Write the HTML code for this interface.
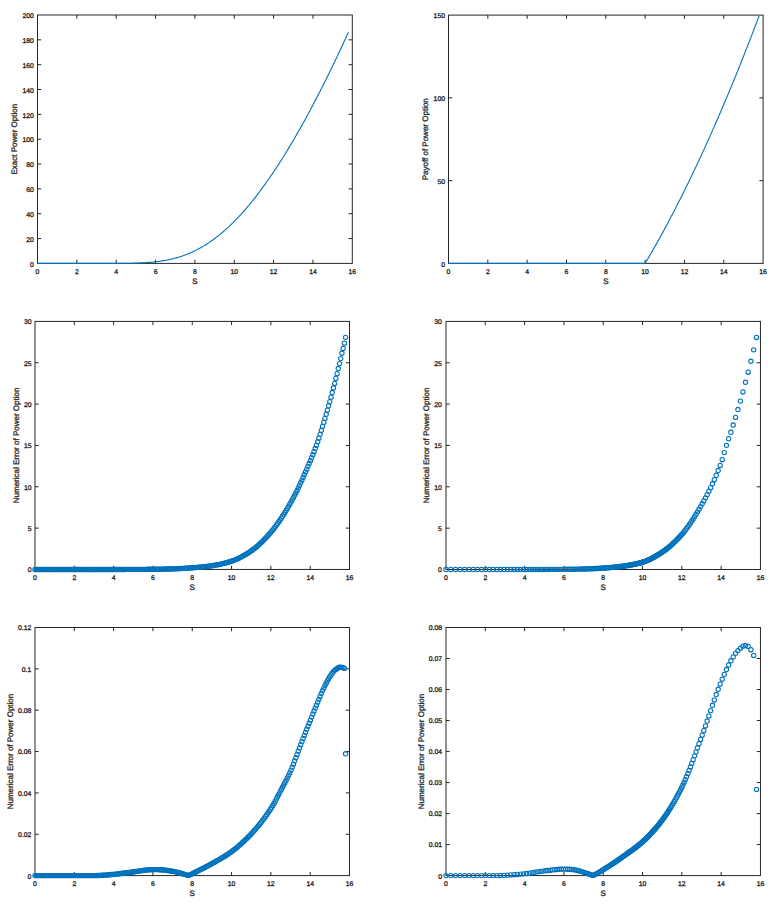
<!DOCTYPE html>
<html><head><meta charset="utf-8"><title>Power Option</title>
<style>
html,body{margin:0;padding:0;background:#fff;overflow:hidden;}
svg{display:block;font-family:"Liberation Sans",sans-serif;fill:#262626;}
text{stroke:#262626;stroke-width:0.3px;text-rendering:geometricPrecision;}
</style></head><body>
<svg width="776" height="907" viewBox="0 0 776 907">
<defs><circle id="c" r="2.15" fill="none" stroke="#0072bd" stroke-width="1.1"/></defs>
<rect width="776" height="907" fill="#fff"/>
<rect x="37.50" y="15.00" width="314.80" height="248.40" fill="none" stroke="#262626" stroke-width="1.0"/>
<text x="37.50" y="274.00" text-anchor="middle" font-size="6.85">0</text>
<text x="76.85" y="274.00" text-anchor="middle" font-size="6.85">2</text>
<text x="116.20" y="274.00" text-anchor="middle" font-size="6.85">4</text>
<text x="155.55" y="274.00" text-anchor="middle" font-size="6.85">6</text>
<text x="194.90" y="274.00" text-anchor="middle" font-size="6.85">8</text>
<text x="234.25" y="274.00" text-anchor="middle" font-size="6.85">10</text>
<text x="273.60" y="274.00" text-anchor="middle" font-size="6.85">12</text>
<text x="312.95" y="274.00" text-anchor="middle" font-size="6.85">14</text>
<text x="352.30" y="274.00" text-anchor="middle" font-size="6.85">16</text>
<text x="33.90" y="266.60" text-anchor="end" font-size="6.85">0</text>
<text x="33.90" y="241.76" text-anchor="end" font-size="6.85">20</text>
<text x="33.90" y="216.92" text-anchor="end" font-size="6.85">40</text>
<text x="33.90" y="192.08" text-anchor="end" font-size="6.85">60</text>
<text x="33.90" y="167.24" text-anchor="end" font-size="6.85">80</text>
<text x="33.90" y="142.40" text-anchor="end" font-size="6.85">100</text>
<text x="33.90" y="117.56" text-anchor="end" font-size="6.85">120</text>
<text x="33.90" y="92.72" text-anchor="end" font-size="6.85">140</text>
<text x="33.90" y="67.88" text-anchor="end" font-size="6.85">160</text>
<text x="33.90" y="43.04" text-anchor="end" font-size="6.85">180</text>
<text x="33.90" y="18.20" text-anchor="end" font-size="6.85">200</text>
<path d="M76.85 263.40v-3.7M76.85 15.00v3.7M116.20 263.40v-3.7M116.20 15.00v3.7M155.55 263.40v-3.7M155.55 15.00v3.7M194.90 263.40v-3.7M194.90 15.00v3.7M234.25 263.40v-3.7M234.25 15.00v3.7M273.60 263.40v-3.7M273.60 15.00v3.7M312.95 263.40v-3.7M312.95 15.00v3.7M37.50 238.56h3.7M352.30 238.56h-3.7M37.50 213.72h3.7M352.30 213.72h-3.7M37.50 188.88h3.7M352.30 188.88h-3.7M37.50 164.04h3.7M352.30 164.04h-3.7M37.50 139.20h3.7M352.30 139.20h-3.7M37.50 114.36h3.7M352.30 114.36h-3.7M37.50 89.52h3.7M352.30 89.52h-3.7M37.50 64.68h3.7M352.30 64.68h-3.7M37.50 39.84h3.7M352.30 39.84h-3.7" stroke="#262626" stroke-width="1.0" fill="none"/>
<text x="194.90" y="284.20" text-anchor="middle" font-size="8.0">S</text>
<text transform="translate(16.70 139.20) rotate(-90)" text-anchor="middle" font-size="8.0">Exact Power Option</text>
<polyline points="37.50,263.40 38.28,263.40 39.06,263.40 39.84,263.40 40.62,263.40 41.40,263.40 42.17,263.40 42.95,263.40 43.73,263.40 44.51,263.40 45.29,263.40 46.07,263.40 46.85,263.40 47.63,263.40 48.41,263.40 49.19,263.40 49.97,263.40 50.74,263.40 51.52,263.40 52.30,263.40 53.08,263.40 53.86,263.40 54.64,263.40 55.42,263.40 56.20,263.40 56.98,263.40 57.76,263.40 58.54,263.40 59.32,263.40 60.09,263.40 60.87,263.40 61.65,263.40 62.43,263.40 63.21,263.40 63.99,263.40 64.77,263.40 65.55,263.40 66.33,263.40 67.11,263.40 67.89,263.40 68.66,263.40 69.44,263.40 70.22,263.40 71.00,263.40 71.78,263.40 72.56,263.40 73.34,263.40 74.12,263.40 74.90,263.40 75.68,263.40 76.46,263.40 77.23,263.40 78.01,263.40 78.79,263.40 79.57,263.40 80.35,263.40 81.13,263.40 81.91,263.40 82.69,263.40 83.47,263.40 84.25,263.40 85.03,263.40 85.80,263.40 86.58,263.40 87.36,263.40 88.14,263.40 88.92,263.40 89.70,263.40 90.48,263.40 91.26,263.40 92.04,263.40 92.82,263.40 93.60,263.40 94.38,263.40 95.15,263.40 95.93,263.40 96.71,263.40 97.49,263.40 98.27,263.40 99.05,263.40 99.83,263.40 100.61,263.40 101.39,263.40 102.17,263.40 102.95,263.40 103.72,263.40 104.50,263.40 105.28,263.40 106.06,263.39 106.84,263.39 107.62,263.39 108.40,263.39 109.18,263.39 109.96,263.39 110.74,263.39 111.52,263.39 112.29,263.38 113.07,263.38 113.85,263.38 114.63,263.38 115.41,263.37 116.19,263.37 116.97,263.37 117.75,263.36 118.53,263.36 119.31,263.36 120.09,263.35 120.86,263.34 121.64,263.34 122.42,263.33 123.20,263.32 123.98,263.32 124.76,263.31 125.54,263.30 126.32,263.29 127.10,263.28 127.88,263.27 128.66,263.25 129.44,263.24 130.21,263.23 130.99,263.21 131.77,263.19 132.55,263.18 133.33,263.16 134.11,263.14 134.89,263.12 135.67,263.09 136.45,263.07 137.23,263.04 138.01,263.01 138.78,262.98 139.56,262.95 140.34,262.92 141.12,262.88 141.90,262.85 142.68,262.81 143.46,262.77 144.24,262.72 145.02,262.68 145.80,262.63 146.58,262.58 147.35,262.52 148.13,262.47 148.91,262.41 149.69,262.34 150.47,262.28 151.25,262.21 152.03,262.14 152.81,262.07 153.59,261.99 154.37,261.91 155.15,261.82 155.92,261.73 156.70,261.64 157.48,261.55 158.26,261.45 159.04,261.34 159.82,261.24 160.60,261.12 161.38,261.01 162.16,260.89 162.94,260.76 163.72,260.63 164.49,260.50 165.27,260.36 166.05,260.22 166.83,260.07 167.61,259.92 168.39,259.76 169.17,259.59 169.95,259.43 170.73,259.25 171.51,259.07 172.29,258.89 173.07,258.70 173.84,258.50 174.62,258.30 175.40,258.09 176.18,257.87 176.96,257.65 177.74,257.43 178.52,257.20 179.30,256.96 180.08,256.71 180.86,256.46 181.64,256.20 182.41,255.94 183.19,255.67 183.97,255.39 184.75,255.11 185.53,254.81 186.31,254.52 187.09,254.21 187.87,253.90 188.65,253.58 189.43,253.25 190.21,252.92 190.98,252.58 191.76,252.23 192.54,251.88 193.32,251.52 194.10,251.15 194.88,250.77 195.66,250.38 196.44,249.99 197.22,249.59 198.00,249.18 198.78,248.77 199.55,248.35 200.33,247.92 201.11,247.48 201.89,247.03 202.67,246.58 203.45,246.12 204.23,245.65 205.01,245.17 205.79,244.68 206.57,244.19 207.35,243.69 208.13,243.18 208.90,242.66 209.68,242.13 210.46,241.60 211.24,241.06 212.02,240.51 212.80,239.95 213.58,239.39 214.36,238.81 215.14,238.23 215.92,237.64 216.70,237.04 217.47,236.43 218.25,235.82 219.03,235.19 219.81,234.56 220.59,233.92 221.37,233.28 222.15,232.62 222.93,231.96 223.71,231.28 224.49,230.60 225.27,229.91 226.04,229.22 226.82,228.51 227.60,227.80 228.38,227.08 229.16,226.35 229.94,225.61 230.72,224.87 231.50,224.11 232.28,223.35 233.06,222.58 233.84,221.80 234.61,221.02 235.39,220.23 236.17,219.42 236.95,218.61 237.73,217.80 238.51,216.97 239.29,216.14 240.07,215.30 240.85,214.45 241.63,213.59 242.41,212.72 243.19,211.85 243.96,210.97 244.74,210.08 245.52,209.18 246.30,208.28 247.08,207.37 247.86,206.45 248.64,205.52 249.42,204.59 250.20,203.64 250.98,202.69 251.76,201.74 252.53,200.77 253.31,199.80 254.09,198.82 254.87,197.83 255.65,196.84 256.43,195.83 257.21,194.82 257.99,193.81 258.77,192.78 259.55,191.75 260.33,190.71 261.10,189.66 261.88,188.61 262.66,187.55 263.44,186.48 264.22,185.40 265.00,184.32 265.78,183.23 266.56,182.14 267.34,181.03 268.12,179.92 268.90,178.80 269.67,177.68 270.45,176.55 271.23,175.41 272.01,174.26 272.79,173.11 273.57,171.95 274.35,170.78 275.13,169.61 275.91,168.43 276.69,167.24 277.47,166.05 278.25,164.85 279.02,163.64 279.80,162.43 280.58,161.21 281.36,159.99 282.14,158.75 282.92,157.51 283.70,156.27 284.48,155.01 285.26,153.76 286.04,152.49 286.82,151.22 287.59,149.94 288.37,148.66 289.15,147.37 289.93,146.07 290.71,144.77 291.49,143.46 292.27,142.14 293.05,140.82 293.83,139.49 294.61,138.16 295.39,136.81 296.16,135.47 296.94,134.12 297.72,132.76 298.50,131.39 299.28,130.02 300.06,128.64 300.84,127.26 301.62,125.87 302.40,124.48 303.18,123.08 303.96,121.67 304.73,120.26 305.51,118.84 306.29,117.41 307.07,115.98 307.85,114.55 308.63,113.11 309.41,111.66 310.19,110.21 310.97,108.75 311.75,107.28 312.53,105.81 313.31,104.34 314.08,102.86 314.86,101.37 315.64,99.88 316.42,98.38 317.20,96.87 317.98,95.36 318.76,93.85 319.54,92.33 320.32,90.80 321.10,89.27 321.88,87.73 322.65,86.19 323.43,84.64 324.21,83.09 324.99,81.53 325.77,79.97 326.55,78.40 327.33,76.82 328.11,75.24 328.89,73.66 329.67,72.07 330.45,70.47 331.22,68.87 332.00,67.26 332.78,65.65 333.56,64.03 334.34,62.41 335.12,60.78 335.90,59.15 336.68,57.51 337.46,55.87 338.24,54.22 339.02,52.56 339.79,50.90 340.57,49.24 341.35,47.57 342.13,45.90 342.91,44.22 343.69,42.53 344.47,40.84 345.25,39.15 346.03,37.45 346.81,35.74 347.59,34.03 348.37,32.32" fill="none" stroke="#0072bd" stroke-width="1.1" stroke-linejoin="round"/>
<rect x="448.50" y="15.10" width="314.60" height="248.30" fill="none" stroke="#262626" stroke-width="1.0"/>
<text x="448.50" y="274.00" text-anchor="middle" font-size="6.85">0</text>
<text x="487.82" y="274.00" text-anchor="middle" font-size="6.85">2</text>
<text x="527.15" y="274.00" text-anchor="middle" font-size="6.85">4</text>
<text x="566.48" y="274.00" text-anchor="middle" font-size="6.85">6</text>
<text x="605.80" y="274.00" text-anchor="middle" font-size="6.85">8</text>
<text x="645.12" y="274.00" text-anchor="middle" font-size="6.85">10</text>
<text x="684.45" y="274.00" text-anchor="middle" font-size="6.85">12</text>
<text x="723.78" y="274.00" text-anchor="middle" font-size="6.85">14</text>
<text x="763.10" y="274.00" text-anchor="middle" font-size="6.85">16</text>
<text x="445.00" y="266.60" text-anchor="end" font-size="6.85">0</text>
<text x="445.00" y="183.83" text-anchor="end" font-size="6.85">50</text>
<text x="445.00" y="101.07" text-anchor="end" font-size="6.85">100</text>
<text x="445.00" y="18.30" text-anchor="end" font-size="6.85">150</text>
<path d="M487.82 263.40v-3.7M487.82 15.10v3.7M527.15 263.40v-3.7M527.15 15.10v3.7M566.48 263.40v-3.7M566.48 15.10v3.7M605.80 263.40v-3.7M605.80 15.10v3.7M645.12 263.40v-3.7M645.12 15.10v3.7M684.45 263.40v-3.7M684.45 15.10v3.7M723.78 263.40v-3.7M723.78 15.10v3.7M448.50 180.63h3.7M763.10 180.63h-3.7M448.50 97.87h3.7M763.10 97.87h-3.7" stroke="#262626" stroke-width="1.0" fill="none"/>
<text x="605.80" y="284.20" text-anchor="middle" font-size="8.0">S</text>
<text transform="translate(427.90 139.25) rotate(-90)" text-anchor="middle" font-size="8.0">Payoff of Power Option</text>
<polyline points="448.50,263.40 449.28,263.40 450.06,263.40 450.84,263.40 451.61,263.40 452.39,263.40 453.17,263.40 453.95,263.40 454.73,263.40 455.51,263.40 456.29,263.40 457.06,263.40 457.84,263.40 458.62,263.40 459.40,263.40 460.18,263.40 460.96,263.40 461.74,263.40 462.52,263.40 463.29,263.40 464.07,263.40 464.85,263.40 465.63,263.40 466.41,263.40 467.19,263.40 467.97,263.40 468.74,263.40 469.52,263.40 470.30,263.40 471.08,263.40 471.86,263.40 472.64,263.40 473.42,263.40 474.19,263.40 474.97,263.40 475.75,263.40 476.53,263.40 477.31,263.40 478.09,263.40 478.87,263.40 479.64,263.40 480.42,263.40 481.20,263.40 481.98,263.40 482.76,263.40 483.54,263.40 484.32,263.40 485.09,263.40 485.87,263.40 486.65,263.40 487.43,263.40 488.21,263.40 488.99,263.40 489.77,263.40 490.55,263.40 491.32,263.40 492.10,263.40 492.88,263.40 493.66,263.40 494.44,263.40 495.22,263.40 496.00,263.40 496.77,263.40 497.55,263.40 498.33,263.40 499.11,263.40 499.89,263.40 500.67,263.40 501.45,263.40 502.22,263.40 503.00,263.40 503.78,263.40 504.56,263.40 505.34,263.40 506.12,263.40 506.90,263.40 507.67,263.40 508.45,263.40 509.23,263.40 510.01,263.40 510.79,263.40 511.57,263.40 512.35,263.40 513.13,263.40 513.90,263.40 514.68,263.40 515.46,263.40 516.24,263.40 517.02,263.40 517.80,263.40 518.58,263.40 519.35,263.40 520.13,263.40 520.91,263.40 521.69,263.40 522.47,263.40 523.25,263.40 524.03,263.40 524.80,263.40 525.58,263.40 526.36,263.40 527.14,263.40 527.92,263.40 528.70,263.40 529.48,263.40 530.25,263.40 531.03,263.40 531.81,263.40 532.59,263.40 533.37,263.40 534.15,263.40 534.93,263.40 535.70,263.40 536.48,263.40 537.26,263.40 538.04,263.40 538.82,263.40 539.60,263.40 540.38,263.40 541.16,263.40 541.93,263.40 542.71,263.40 543.49,263.40 544.27,263.40 545.05,263.40 545.83,263.40 546.61,263.40 547.38,263.40 548.16,263.40 548.94,263.40 549.72,263.40 550.50,263.40 551.28,263.40 552.06,263.40 552.83,263.40 553.61,263.40 554.39,263.40 555.17,263.40 555.95,263.40 556.73,263.40 557.51,263.40 558.28,263.40 559.06,263.40 559.84,263.40 560.62,263.40 561.40,263.40 562.18,263.40 562.96,263.40 563.74,263.40 564.51,263.40 565.29,263.40 566.07,263.40 566.85,263.40 567.63,263.40 568.41,263.40 569.19,263.40 569.96,263.40 570.74,263.40 571.52,263.40 572.30,263.40 573.08,263.40 573.86,263.40 574.64,263.40 575.41,263.40 576.19,263.40 576.97,263.40 577.75,263.40 578.53,263.40 579.31,263.40 580.09,263.40 580.86,263.40 581.64,263.40 582.42,263.40 583.20,263.40 583.98,263.40 584.76,263.40 585.54,263.40 586.31,263.40 587.09,263.40 587.87,263.40 588.65,263.40 589.43,263.40 590.21,263.40 590.99,263.40 591.77,263.40 592.54,263.40 593.32,263.40 594.10,263.40 594.88,263.40 595.66,263.40 596.44,263.40 597.22,263.40 597.99,263.40 598.77,263.40 599.55,263.40 600.33,263.40 601.11,263.40 601.89,263.40 602.67,263.40 603.44,263.40 604.22,263.40 605.00,263.40 605.78,263.40 606.56,263.40 607.34,263.40 608.12,263.40 608.89,263.40 609.67,263.40 610.45,263.40 611.23,263.40 612.01,263.40 612.79,263.40 613.57,263.40 614.35,263.40 615.12,263.40 615.90,263.40 616.68,263.40 617.46,263.40 618.24,263.40 619.02,263.40 619.80,263.40 620.57,263.40 621.35,263.40 622.13,263.40 622.91,263.40 623.69,263.40 624.47,263.40 625.25,263.40 626.02,263.40 626.80,263.40 627.58,263.40 628.36,263.40 629.14,263.40 629.92,263.40 630.70,263.40 631.47,263.40 632.25,263.40 633.03,263.40 633.81,263.40 634.59,263.40 635.37,263.40 636.15,263.40 636.92,263.40 637.70,263.40 638.48,263.40 639.26,263.40 640.04,263.40 640.82,263.40 641.60,263.40 642.38,263.40 643.15,263.40 643.93,263.40 644.71,263.40 645.49,262.79 646.27,261.47 647.05,260.15 647.83,258.82 648.60,257.49 649.38,256.15 650.16,254.81 650.94,253.46 651.72,252.11 652.50,250.75 653.28,249.39 654.05,248.02 654.83,246.65 655.61,245.27 656.39,243.89 657.17,242.50 657.95,241.11 658.73,239.71 659.50,238.30 660.28,236.89 661.06,235.48 661.84,234.06 662.62,232.63 663.40,231.20 664.18,229.77 664.96,228.33 665.73,226.88 666.51,225.43 667.29,223.97 668.07,222.51 668.85,221.05 669.63,219.57 670.41,218.10 671.18,216.62 671.96,215.13 672.74,213.64 673.52,212.14 674.30,210.64 675.08,209.13 675.86,207.61 676.63,206.10 677.41,204.57 678.19,203.04 678.97,201.51 679.75,199.97 680.53,198.43 681.31,196.88 682.08,195.32 682.86,193.76 683.64,192.20 684.42,190.63 685.20,189.05 685.98,187.47 686.76,185.88 687.53,184.29 688.31,182.70 689.09,181.09 689.87,179.49 690.65,177.88 691.43,176.26 692.21,174.64 692.99,173.01 693.76,171.38 694.54,169.74 695.32,168.09 696.10,166.45 696.88,164.79 697.66,163.13 698.44,161.47 699.21,159.80 699.99,158.13 700.77,156.45 701.55,154.76 702.33,153.07 703.11,151.38 703.89,149.68 704.66,147.97 705.44,146.26 706.22,144.55 707.00,142.83 707.78,141.10 708.56,139.37 709.34,137.63 710.11,135.89 710.89,134.14 711.67,132.39 712.45,130.63 713.23,128.87 714.01,127.10 714.79,125.33 715.57,123.55 716.34,121.77 717.12,119.98 717.90,118.19 718.68,116.39 719.46,114.58 720.24,112.77 721.02,110.96 721.79,109.14 722.57,107.32 723.35,105.49 724.13,103.65 724.91,101.81 725.69,99.97 726.47,98.11 727.24,96.26 728.02,94.40 728.80,92.53 729.58,90.66 730.36,88.78 731.14,86.90 731.92,85.01 732.69,83.12 733.47,81.22 734.25,79.32 735.03,77.41 735.81,75.50 736.59,73.58 737.37,71.66 738.14,69.73 738.92,67.80 739.70,65.86 740.48,63.91 741.26,61.96 742.04,60.01 742.82,58.05 743.60,56.08 744.37,54.11 745.15,52.14 745.93,50.16 746.71,48.17 747.49,46.18 748.27,44.19 749.05,42.18 749.82,40.18 750.60,38.17 751.38,36.15 752.16,34.13 752.94,32.10 753.72,30.07 754.50,28.03 755.27,25.99 756.05,23.94 756.83,21.89 757.61,19.83 758.39,17.76 759.17,15.70" fill="none" stroke="#0072bd" stroke-width="1.1" stroke-linejoin="round"/>
<rect x="35.00" y="321.40" width="314.50" height="248.05" fill="none" stroke="#262626" stroke-width="1.0"/>
<text x="35.00" y="580.05" text-anchor="middle" font-size="6.85">0</text>
<text x="74.31" y="580.05" text-anchor="middle" font-size="6.85">2</text>
<text x="113.62" y="580.05" text-anchor="middle" font-size="6.85">4</text>
<text x="152.94" y="580.05" text-anchor="middle" font-size="6.85">6</text>
<text x="192.25" y="580.05" text-anchor="middle" font-size="6.85">8</text>
<text x="231.56" y="580.05" text-anchor="middle" font-size="6.85">10</text>
<text x="270.88" y="580.05" text-anchor="middle" font-size="6.85">12</text>
<text x="310.19" y="580.05" text-anchor="middle" font-size="6.85">14</text>
<text x="349.50" y="580.05" text-anchor="middle" font-size="6.85">16</text>
<text x="31.60" y="572.35" text-anchor="end" font-size="6.85">0</text>
<text x="31.60" y="531.01" text-anchor="end" font-size="6.85">5</text>
<text x="31.60" y="489.67" text-anchor="end" font-size="6.85">10</text>
<text x="31.60" y="448.32" text-anchor="end" font-size="6.85">15</text>
<text x="31.60" y="406.98" text-anchor="end" font-size="6.85">20</text>
<text x="31.60" y="365.64" text-anchor="end" font-size="6.85">25</text>
<text x="31.60" y="324.30" text-anchor="end" font-size="6.85">30</text>
<path d="M74.31 569.45v-3.7M74.31 321.40v3.7M113.62 569.45v-3.7M113.62 321.40v3.7M152.94 569.45v-3.7M152.94 321.40v3.7M192.25 569.45v-3.7M192.25 321.40v3.7M231.56 569.45v-3.7M231.56 321.40v3.7M270.88 569.45v-3.7M270.88 321.40v3.7M310.19 569.45v-3.7M310.19 321.40v3.7M35.00 528.11h3.7M349.50 528.11h-3.7M35.00 486.77h3.7M349.50 486.77h-3.7M35.00 445.43h3.7M349.50 445.43h-3.7M35.00 404.08h3.7M349.50 404.08h-3.7M35.00 362.74h3.7M349.50 362.74h-3.7" stroke="#262626" stroke-width="1.0" fill="none"/>
<text x="192.25" y="590.25" text-anchor="middle" font-size="8.0">S</text>
<text transform="translate(19.00 445.43) rotate(-90)" text-anchor="middle" font-size="8.0">Numerical Error of Power Option</text>
<g><use href="#c" x="35.00" y="569.45"/><use href="#c" x="36.21" y="569.45"/><use href="#c" x="37.43" y="569.45"/><use href="#c" x="38.64" y="569.45"/><use href="#c" x="39.85" y="569.45"/><use href="#c" x="41.07" y="569.45"/><use href="#c" x="42.28" y="569.45"/><use href="#c" x="43.49" y="569.45"/><use href="#c" x="44.71" y="569.45"/><use href="#c" x="45.92" y="569.45"/><use href="#c" x="47.13" y="569.45"/><use href="#c" x="48.34" y="569.45"/><use href="#c" x="49.56" y="569.45"/><use href="#c" x="50.77" y="569.45"/><use href="#c" x="51.98" y="569.45"/><use href="#c" x="53.20" y="569.45"/><use href="#c" x="54.41" y="569.45"/><use href="#c" x="55.62" y="569.45"/><use href="#c" x="56.84" y="569.45"/><use href="#c" x="58.05" y="569.45"/><use href="#c" x="59.26" y="569.45"/><use href="#c" x="60.48" y="569.45"/><use href="#c" x="61.69" y="569.45"/><use href="#c" x="62.90" y="569.45"/><use href="#c" x="64.12" y="569.45"/><use href="#c" x="65.33" y="569.45"/><use href="#c" x="66.54" y="569.45"/><use href="#c" x="67.76" y="569.45"/><use href="#c" x="68.97" y="569.45"/><use href="#c" x="70.18" y="569.45"/><use href="#c" x="71.39" y="569.45"/><use href="#c" x="72.61" y="569.45"/><use href="#c" x="73.82" y="569.45"/><use href="#c" x="75.03" y="569.45"/><use href="#c" x="76.25" y="569.45"/><use href="#c" x="77.46" y="569.45"/><use href="#c" x="78.67" y="569.45"/><use href="#c" x="79.89" y="569.45"/><use href="#c" x="81.10" y="569.45"/><use href="#c" x="82.31" y="569.45"/><use href="#c" x="83.53" y="569.45"/><use href="#c" x="84.74" y="569.45"/><use href="#c" x="85.95" y="569.45"/><use href="#c" x="87.17" y="569.45"/><use href="#c" x="88.38" y="569.45"/><use href="#c" x="89.59" y="569.45"/><use href="#c" x="90.81" y="569.45"/><use href="#c" x="92.02" y="569.45"/><use href="#c" x="93.23" y="569.45"/><use href="#c" x="94.44" y="569.45"/><use href="#c" x="95.66" y="569.45"/><use href="#c" x="96.87" y="569.45"/><use href="#c" x="98.08" y="569.44"/><use href="#c" x="99.30" y="569.44"/><use href="#c" x="100.51" y="569.44"/><use href="#c" x="101.72" y="569.44"/><use href="#c" x="102.94" y="569.44"/><use href="#c" x="104.15" y="569.44"/><use href="#c" x="105.36" y="569.44"/><use href="#c" x="106.58" y="569.44"/><use href="#c" x="107.79" y="569.44"/><use href="#c" x="109.00" y="569.44"/><use href="#c" x="110.22" y="569.44"/><use href="#c" x="111.43" y="569.44"/><use href="#c" x="112.64" y="569.44"/><use href="#c" x="113.86" y="569.44"/><use href="#c" x="115.07" y="569.44"/><use href="#c" x="116.28" y="569.44"/><use href="#c" x="117.49" y="569.44"/><use href="#c" x="118.71" y="569.44"/><use href="#c" x="119.92" y="569.44"/><use href="#c" x="121.13" y="569.43"/><use href="#c" x="122.35" y="569.43"/><use href="#c" x="123.56" y="569.43"/><use href="#c" x="124.77" y="569.43"/><use href="#c" x="125.99" y="569.42"/><use href="#c" x="127.20" y="569.42"/><use href="#c" x="128.41" y="569.42"/><use href="#c" x="129.63" y="569.41"/><use href="#c" x="130.84" y="569.41"/><use href="#c" x="132.05" y="569.40"/><use href="#c" x="133.27" y="569.40"/><use href="#c" x="134.48" y="569.39"/><use href="#c" x="135.69" y="569.39"/><use href="#c" x="136.91" y="569.38"/><use href="#c" x="138.12" y="569.38"/><use href="#c" x="139.33" y="569.37"/><use href="#c" x="140.54" y="569.36"/><use href="#c" x="141.76" y="569.36"/><use href="#c" x="142.97" y="569.35"/><use href="#c" x="144.18" y="569.34"/><use href="#c" x="145.40" y="569.34"/><use href="#c" x="146.61" y="569.33"/><use href="#c" x="147.82" y="569.32"/><use href="#c" x="149.04" y="569.31"/><use href="#c" x="150.25" y="569.30"/><use href="#c" x="151.46" y="569.30"/><use href="#c" x="152.68" y="569.29"/><use href="#c" x="153.89" y="569.28"/><use href="#c" x="155.10" y="569.26"/><use href="#c" x="156.32" y="569.25"/><use href="#c" x="157.53" y="569.23"/><use href="#c" x="158.74" y="569.21"/><use href="#c" x="159.96" y="569.19"/><use href="#c" x="161.17" y="569.17"/><use href="#c" x="162.38" y="569.14"/><use href="#c" x="163.59" y="569.12"/><use href="#c" x="164.81" y="569.09"/><use href="#c" x="166.02" y="569.06"/><use href="#c" x="167.23" y="569.03"/><use href="#c" x="168.45" y="568.99"/><use href="#c" x="169.66" y="568.96"/><use href="#c" x="170.87" y="568.92"/><use href="#c" x="172.09" y="568.89"/><use href="#c" x="173.30" y="568.85"/><use href="#c" x="174.51" y="568.81"/><use href="#c" x="175.73" y="568.76"/><use href="#c" x="176.94" y="568.71"/><use href="#c" x="178.15" y="568.66"/><use href="#c" x="179.37" y="568.60"/><use href="#c" x="180.58" y="568.54"/><use href="#c" x="181.79" y="568.47"/><use href="#c" x="183.01" y="568.40"/><use href="#c" x="184.22" y="568.33"/><use href="#c" x="185.43" y="568.26"/><use href="#c" x="186.64" y="568.18"/><use href="#c" x="187.86" y="568.10"/><use href="#c" x="189.07" y="568.02"/><use href="#c" x="190.28" y="567.94"/><use href="#c" x="191.50" y="567.85"/><use href="#c" x="192.71" y="567.76"/><use href="#c" x="193.92" y="567.67"/><use href="#c" x="195.14" y="567.58"/><use href="#c" x="196.35" y="567.48"/><use href="#c" x="197.56" y="567.37"/><use href="#c" x="198.78" y="567.26"/><use href="#c" x="199.99" y="567.15"/><use href="#c" x="201.20" y="567.03"/><use href="#c" x="202.42" y="566.91"/><use href="#c" x="203.63" y="566.78"/><use href="#c" x="204.84" y="566.64"/><use href="#c" x="206.06" y="566.50"/><use href="#c" x="207.27" y="566.35"/><use href="#c" x="208.48" y="566.20"/><use href="#c" x="209.69" y="566.04"/><use href="#c" x="210.91" y="565.87"/><use href="#c" x="212.12" y="565.70"/><use href="#c" x="213.33" y="565.51"/><use href="#c" x="214.55" y="565.32"/><use href="#c" x="215.76" y="565.11"/><use href="#c" x="216.97" y="564.89"/><use href="#c" x="218.19" y="564.65"/><use href="#c" x="219.40" y="564.40"/><use href="#c" x="220.61" y="564.14"/><use href="#c" x="221.83" y="563.87"/><use href="#c" x="223.04" y="563.58"/><use href="#c" x="224.25" y="563.28"/><use href="#c" x="225.47" y="562.97"/><use href="#c" x="226.68" y="562.64"/><use href="#c" x="227.89" y="562.30"/><use href="#c" x="229.11" y="561.94"/><use href="#c" x="230.32" y="561.57"/><use href="#c" x="231.53" y="561.19"/><use href="#c" x="232.74" y="560.78"/><use href="#c" x="233.96" y="560.34"/><use href="#c" x="235.17" y="559.86"/><use href="#c" x="236.38" y="559.34"/><use href="#c" x="237.60" y="558.79"/><use href="#c" x="238.81" y="558.21"/><use href="#c" x="240.02" y="557.61"/><use href="#c" x="241.24" y="556.97"/><use href="#c" x="242.45" y="556.30"/><use href="#c" x="243.66" y="555.61"/><use href="#c" x="244.88" y="554.90"/><use href="#c" x="246.09" y="554.17"/><use href="#c" x="247.30" y="553.41"/><use href="#c" x="248.52" y="552.63"/><use href="#c" x="249.73" y="551.84"/><use href="#c" x="250.94" y="551.03"/><use href="#c" x="252.16" y="550.20"/><use href="#c" x="253.37" y="549.32"/><use href="#c" x="254.58" y="548.39"/><use href="#c" x="255.79" y="547.42"/><use href="#c" x="257.01" y="546.40"/><use href="#c" x="258.22" y="545.34"/><use href="#c" x="259.43" y="544.25"/><use href="#c" x="260.65" y="543.11"/><use href="#c" x="261.86" y="541.94"/><use href="#c" x="263.07" y="540.73"/><use href="#c" x="264.29" y="539.49"/><use href="#c" x="265.50" y="538.22"/><use href="#c" x="266.71" y="536.92"/><use href="#c" x="267.93" y="535.59"/><use href="#c" x="269.14" y="534.23"/><use href="#c" x="270.35" y="532.85"/><use href="#c" x="271.57" y="531.43"/><use href="#c" x="272.78" y="529.96"/><use href="#c" x="273.99" y="528.43"/><use href="#c" x="275.21" y="526.85"/><use href="#c" x="276.42" y="525.21"/><use href="#c" x="277.63" y="523.52"/><use href="#c" x="278.84" y="521.78"/><use href="#c" x="280.06" y="520.00"/><use href="#c" x="281.27" y="518.16"/><use href="#c" x="282.48" y="516.29"/><use href="#c" x="283.70" y="514.37"/><use href="#c" x="284.91" y="512.41"/><use href="#c" x="286.12" y="510.42"/><use href="#c" x="287.34" y="508.39"/><use href="#c" x="288.55" y="506.33"/><use href="#c" x="289.76" y="504.23"/><use href="#c" x="290.98" y="502.10"/><use href="#c" x="292.19" y="499.91"/><use href="#c" x="293.40" y="497.65"/><use href="#c" x="294.62" y="495.32"/><use href="#c" x="295.83" y="492.93"/><use href="#c" x="297.04" y="490.48"/><use href="#c" x="298.26" y="487.97"/><use href="#c" x="299.47" y="485.41"/><use href="#c" x="300.68" y="482.81"/><use href="#c" x="301.90" y="480.16"/><use href="#c" x="303.11" y="477.47"/><use href="#c" x="304.32" y="474.74"/><use href="#c" x="305.53" y="471.97"/><use href="#c" x="306.75" y="469.18"/><use href="#c" x="307.96" y="466.36"/><use href="#c" x="309.17" y="463.52"/><use href="#c" x="310.39" y="460.66"/><use href="#c" x="311.60" y="457.75"/><use href="#c" x="312.81" y="454.77"/><use href="#c" x="314.03" y="451.69"/><use href="#c" x="315.24" y="448.52"/><use href="#c" x="316.45" y="445.22"/><use href="#c" x="317.67" y="441.79"/><use href="#c" x="318.88" y="438.16"/><use href="#c" x="320.09" y="434.36"/><use href="#c" x="321.31" y="430.44"/><use href="#c" x="322.52" y="426.44"/><use href="#c" x="323.73" y="422.42"/><use href="#c" x="324.95" y="418.41"/><use href="#c" x="326.16" y="414.36"/><use href="#c" x="327.37" y="410.14"/><use href="#c" x="328.58" y="405.76"/><use href="#c" x="329.80" y="401.62"/><use href="#c" x="331.01" y="397.15"/><use href="#c" x="332.22" y="392.52"/><use href="#c" x="333.44" y="387.89"/><use href="#c" x="334.65" y="383.43"/><use href="#c" x="335.86" y="378.46"/><use href="#c" x="337.08" y="373.67"/><use href="#c" x="338.29" y="368.54"/><use href="#c" x="339.50" y="363.58"/><use href="#c" x="340.72" y="358.61"/><use href="#c" x="341.93" y="353.24"/><use href="#c" x="343.14" y="348.44"/><use href="#c" x="344.36" y="343.15"/><use href="#c" x="345.57" y="337.36"/></g>
<rect x="446.00" y="321.40" width="314.45" height="248.10" fill="none" stroke="#262626" stroke-width="1.0"/>
<text x="446.00" y="580.10" text-anchor="middle" font-size="6.85">0</text>
<text x="485.31" y="580.10" text-anchor="middle" font-size="6.85">2</text>
<text x="524.61" y="580.10" text-anchor="middle" font-size="6.85">4</text>
<text x="563.92" y="580.10" text-anchor="middle" font-size="6.85">6</text>
<text x="603.23" y="580.10" text-anchor="middle" font-size="6.85">8</text>
<text x="642.53" y="580.10" text-anchor="middle" font-size="6.85">10</text>
<text x="681.84" y="580.10" text-anchor="middle" font-size="6.85">12</text>
<text x="721.14" y="580.10" text-anchor="middle" font-size="6.85">14</text>
<text x="760.45" y="580.10" text-anchor="middle" font-size="6.85">16</text>
<text x="441.90" y="572.40" text-anchor="end" font-size="6.85">0</text>
<text x="441.90" y="531.05" text-anchor="end" font-size="6.85">5</text>
<text x="441.90" y="489.70" text-anchor="end" font-size="6.85">10</text>
<text x="441.90" y="448.35" text-anchor="end" font-size="6.85">15</text>
<text x="441.90" y="407.00" text-anchor="end" font-size="6.85">20</text>
<text x="441.90" y="365.65" text-anchor="end" font-size="6.85">25</text>
<text x="441.90" y="324.30" text-anchor="end" font-size="6.85">30</text>
<path d="M485.31 569.50v-3.7M485.31 321.40v3.7M524.61 569.50v-3.7M524.61 321.40v3.7M563.92 569.50v-3.7M563.92 321.40v3.7M603.23 569.50v-3.7M603.23 321.40v3.7M642.53 569.50v-3.7M642.53 321.40v3.7M681.84 569.50v-3.7M681.84 321.40v3.7M721.14 569.50v-3.7M721.14 321.40v3.7M446.00 528.15h3.7M760.45 528.15h-3.7M446.00 486.80h3.7M760.45 486.80h-3.7M446.00 445.45h3.7M760.45 445.45h-3.7M446.00 404.10h3.7M760.45 404.10h-3.7M446.00 362.75h3.7M760.45 362.75h-3.7" stroke="#262626" stroke-width="1.0" fill="none"/>
<text x="603.23" y="590.30" text-anchor="middle" font-size="8.0">S</text>
<text transform="translate(428.75 445.45) rotate(-90)" text-anchor="middle" font-size="8.0">Numerical Error of Power Option</text>
<g><use href="#c" x="446.00" y="569.50"/><use href="#c" x="450.83" y="569.50"/><use href="#c" x="455.55" y="569.50"/><use href="#c" x="460.16" y="569.50"/><use href="#c" x="464.65" y="569.50"/><use href="#c" x="469.03" y="569.50"/><use href="#c" x="473.31" y="569.50"/><use href="#c" x="477.48" y="569.50"/><use href="#c" x="481.56" y="569.50"/><use href="#c" x="485.53" y="569.50"/><use href="#c" x="489.41" y="569.50"/><use href="#c" x="493.20" y="569.50"/><use href="#c" x="496.90" y="569.50"/><use href="#c" x="500.50" y="569.50"/><use href="#c" x="504.02" y="569.50"/><use href="#c" x="507.46" y="569.50"/><use href="#c" x="510.81" y="569.49"/><use href="#c" x="514.09" y="569.49"/><use href="#c" x="517.28" y="569.49"/><use href="#c" x="520.40" y="569.49"/><use href="#c" x="523.44" y="569.49"/><use href="#c" x="526.42" y="569.49"/><use href="#c" x="529.32" y="569.49"/><use href="#c" x="532.15" y="569.48"/><use href="#c" x="534.91" y="569.48"/><use href="#c" x="537.61" y="569.47"/><use href="#c" x="540.25" y="569.46"/><use href="#c" x="542.82" y="569.45"/><use href="#c" x="545.33" y="569.44"/><use href="#c" x="547.78" y="569.43"/><use href="#c" x="550.18" y="569.42"/><use href="#c" x="552.52" y="569.41"/><use href="#c" x="554.80" y="569.39"/><use href="#c" x="557.03" y="569.38"/><use href="#c" x="559.21" y="569.37"/><use href="#c" x="561.33" y="569.35"/><use href="#c" x="563.41" y="569.34"/><use href="#c" x="565.44" y="569.32"/><use href="#c" x="567.42" y="569.30"/><use href="#c" x="569.36" y="569.28"/><use href="#c" x="571.25" y="569.25"/><use href="#c" x="573.10" y="569.22"/><use href="#c" x="574.90" y="569.19"/><use href="#c" x="576.67" y="569.16"/><use href="#c" x="578.39" y="569.12"/><use href="#c" x="580.08" y="569.09"/><use href="#c" x="581.73" y="569.05"/><use href="#c" x="583.34" y="569.01"/><use href="#c" x="584.91" y="568.97"/><use href="#c" x="586.45" y="568.92"/><use href="#c" x="587.95" y="568.87"/><use href="#c" x="589.43" y="568.82"/><use href="#c" x="590.86" y="568.76"/><use href="#c" x="592.27" y="568.69"/><use href="#c" x="593.65" y="568.63"/><use href="#c" x="595.00" y="568.56"/><use href="#c" x="596.31" y="568.50"/><use href="#c" x="597.60" y="568.43"/><use href="#c" x="598.87" y="568.36"/><use href="#c" x="600.10" y="568.28"/><use href="#c" x="601.31" y="568.21"/><use href="#c" x="602.50" y="568.14"/><use href="#c" x="603.66" y="568.07"/><use href="#c" x="604.80" y="567.99"/><use href="#c" x="605.91" y="567.91"/><use href="#c" x="607.00" y="567.83"/><use href="#c" x="608.07" y="567.75"/><use href="#c" x="609.12" y="567.66"/><use href="#c" x="610.15" y="567.58"/><use href="#c" x="611.16" y="567.49"/><use href="#c" x="612.15" y="567.40"/><use href="#c" x="613.12" y="567.30"/><use href="#c" x="614.07" y="567.21"/><use href="#c" x="615.01" y="567.11"/><use href="#c" x="615.93" y="567.02"/><use href="#c" x="616.83" y="566.92"/><use href="#c" x="617.72" y="566.82"/><use href="#c" x="618.59" y="566.72"/><use href="#c" x="619.45" y="566.62"/><use href="#c" x="620.29" y="566.52"/><use href="#c" x="621.12" y="566.42"/><use href="#c" x="621.94" y="566.31"/><use href="#c" x="622.74" y="566.21"/><use href="#c" x="623.53" y="566.11"/><use href="#c" x="624.31" y="566.00"/><use href="#c" x="625.08" y="565.89"/><use href="#c" x="625.84" y="565.78"/><use href="#c" x="626.59" y="565.67"/><use href="#c" x="627.33" y="565.55"/><use href="#c" x="628.06" y="565.43"/><use href="#c" x="628.78" y="565.31"/><use href="#c" x="629.49" y="565.19"/><use href="#c" x="630.19" y="565.07"/><use href="#c" x="630.89" y="564.94"/><use href="#c" x="631.58" y="564.82"/><use href="#c" x="632.26" y="564.68"/><use href="#c" x="632.94" y="564.55"/><use href="#c" x="633.61" y="564.42"/><use href="#c" x="634.28" y="564.28"/><use href="#c" x="634.94" y="564.14"/><use href="#c" x="635.59" y="563.99"/><use href="#c" x="636.25" y="563.84"/><use href="#c" x="636.89" y="563.70"/><use href="#c" x="637.54" y="563.54"/><use href="#c" x="638.18" y="563.39"/><use href="#c" x="638.82" y="563.23"/><use href="#c" x="639.45" y="563.07"/><use href="#c" x="640.09" y="562.90"/><use href="#c" x="640.72" y="562.73"/><use href="#c" x="641.35" y="562.56"/><use href="#c" x="641.99" y="562.38"/><use href="#c" x="642.62" y="562.20"/><use href="#c" x="643.25" y="562.01"/><use href="#c" x="643.88" y="561.80"/><use href="#c" x="644.51" y="561.59"/><use href="#c" x="645.14" y="561.36"/><use href="#c" x="645.78" y="561.12"/><use href="#c" x="646.42" y="560.87"/><use href="#c" x="647.06" y="560.61"/><use href="#c" x="647.70" y="560.34"/><use href="#c" x="648.34" y="560.05"/><use href="#c" x="648.99" y="559.76"/><use href="#c" x="649.64" y="559.45"/><use href="#c" x="650.30" y="559.13"/><use href="#c" x="650.96" y="558.80"/><use href="#c" x="651.63" y="558.46"/><use href="#c" x="652.30" y="558.10"/><use href="#c" x="652.98" y="557.74"/><use href="#c" x="653.67" y="557.36"/><use href="#c" x="654.36" y="556.97"/><use href="#c" x="655.06" y="556.57"/><use href="#c" x="655.76" y="556.16"/><use href="#c" x="656.48" y="555.73"/><use href="#c" x="657.20" y="555.30"/><use href="#c" x="657.93" y="554.85"/><use href="#c" x="658.67" y="554.39"/><use href="#c" x="659.43" y="553.91"/><use href="#c" x="660.19" y="553.43"/><use href="#c" x="660.96" y="552.93"/><use href="#c" x="661.74" y="552.42"/><use href="#c" x="662.54" y="551.90"/><use href="#c" x="663.35" y="551.35"/><use href="#c" x="664.17" y="550.78"/><use href="#c" x="665.00" y="550.18"/><use href="#c" x="665.85" y="549.55"/><use href="#c" x="666.71" y="548.89"/><use href="#c" x="667.58" y="548.20"/><use href="#c" x="668.48" y="547.47"/><use href="#c" x="669.38" y="546.71"/><use href="#c" x="670.31" y="545.92"/><use href="#c" x="671.25" y="545.09"/><use href="#c" x="672.20" y="544.23"/><use href="#c" x="673.18" y="543.32"/><use href="#c" x="674.17" y="542.37"/><use href="#c" x="675.19" y="541.39"/><use href="#c" x="676.22" y="540.35"/><use href="#c" x="677.28" y="539.28"/><use href="#c" x="678.35" y="538.16"/><use href="#c" x="679.45" y="536.99"/><use href="#c" x="680.57" y="535.76"/><use href="#c" x="681.71" y="534.49"/><use href="#c" x="682.88" y="533.15"/><use href="#c" x="684.07" y="531.72"/><use href="#c" x="685.29" y="530.19"/><use href="#c" x="686.53" y="528.57"/><use href="#c" x="687.80" y="526.84"/><use href="#c" x="689.10" y="525.02"/><use href="#c" x="690.43" y="523.09"/><use href="#c" x="691.78" y="521.05"/><use href="#c" x="693.17" y="518.92"/><use href="#c" x="694.58" y="516.67"/><use href="#c" x="696.03" y="514.32"/><use href="#c" x="697.51" y="511.85"/><use href="#c" x="699.02" y="509.28"/><use href="#c" x="700.57" y="506.60"/><use href="#c" x="702.16" y="503.82"/><use href="#c" x="703.78" y="500.91"/><use href="#c" x="705.43" y="497.86"/><use href="#c" x="707.13" y="494.64"/><use href="#c" x="708.86" y="491.25"/><use href="#c" x="710.64" y="487.65"/><use href="#c" x="712.46" y="483.81"/><use href="#c" x="714.32" y="479.70"/><use href="#c" x="716.22" y="475.29"/><use href="#c" x="718.17" y="470.55"/><use href="#c" x="720.16" y="465.43"/><use href="#c" x="722.21" y="459.68"/><use href="#c" x="724.30" y="452.60"/><use href="#c" x="726.44" y="445.37"/><use href="#c" x="728.63" y="438.75"/><use href="#c" x="730.87" y="432.30"/><use href="#c" x="733.17" y="425.02"/><use href="#c" x="735.52" y="417.41"/><use href="#c" x="737.93" y="409.56"/><use href="#c" x="740.40" y="401.12"/><use href="#c" x="742.93" y="391.94"/><use href="#c" x="745.52" y="382.27"/><use href="#c" x="748.17" y="372.18"/><use href="#c" x="750.89" y="361.26"/><use href="#c" x="753.67" y="349.85"/><use href="#c" x="756.52" y="337.44"/></g>
<rect x="35.00" y="627.50" width="314.50" height="248.10" fill="none" stroke="#262626" stroke-width="1.0"/>
<text x="35.00" y="886.20" text-anchor="middle" font-size="6.85">0</text>
<text x="74.31" y="886.20" text-anchor="middle" font-size="6.85">2</text>
<text x="113.62" y="886.20" text-anchor="middle" font-size="6.85">4</text>
<text x="152.94" y="886.20" text-anchor="middle" font-size="6.85">6</text>
<text x="192.25" y="886.20" text-anchor="middle" font-size="6.85">8</text>
<text x="231.56" y="886.20" text-anchor="middle" font-size="6.85">10</text>
<text x="270.88" y="886.20" text-anchor="middle" font-size="6.85">12</text>
<text x="310.19" y="886.20" text-anchor="middle" font-size="6.85">14</text>
<text x="349.50" y="886.20" text-anchor="middle" font-size="6.85">16</text>
<text x="31.30" y="878.50" text-anchor="end" font-size="6.85">0</text>
<text x="31.30" y="837.15" text-anchor="end" font-size="6.85">0.02</text>
<text x="31.30" y="795.80" text-anchor="end" font-size="6.85">0.04</text>
<text x="31.30" y="754.45" text-anchor="end" font-size="6.85">0.06</text>
<text x="31.30" y="713.10" text-anchor="end" font-size="6.85">0.08</text>
<text x="31.30" y="671.75" text-anchor="end" font-size="6.85">0.1</text>
<text x="31.30" y="630.40" text-anchor="end" font-size="6.85">0.12</text>
<path d="M74.31 875.60v-3.7M74.31 627.50v3.7M113.62 875.60v-3.7M113.62 627.50v3.7M152.94 875.60v-3.7M152.94 627.50v3.7M192.25 875.60v-3.7M192.25 627.50v3.7M231.56 875.60v-3.7M231.56 627.50v3.7M270.88 875.60v-3.7M270.88 627.50v3.7M310.19 875.60v-3.7M310.19 627.50v3.7M35.00 834.25h3.7M349.50 834.25h-3.7M35.00 792.90h3.7M349.50 792.90h-3.7M35.00 751.55h3.7M349.50 751.55h-3.7M35.00 710.20h3.7M349.50 710.20h-3.7M35.00 668.85h3.7M349.50 668.85h-3.7" stroke="#262626" stroke-width="1.0" fill="none"/>
<text x="192.25" y="896.40" text-anchor="middle" font-size="8.0">S</text>
<text transform="translate(12.90 751.55) rotate(-90)" text-anchor="middle" font-size="8.0">Numerical Error of Power Option</text>
<g><use href="#c" x="35.00" y="875.60"/><use href="#c" x="36.21" y="875.60"/><use href="#c" x="37.43" y="875.60"/><use href="#c" x="38.64" y="875.60"/><use href="#c" x="39.85" y="875.60"/><use href="#c" x="41.07" y="875.60"/><use href="#c" x="42.28" y="875.60"/><use href="#c" x="43.49" y="875.60"/><use href="#c" x="44.71" y="875.60"/><use href="#c" x="45.92" y="875.60"/><use href="#c" x="47.13" y="875.60"/><use href="#c" x="48.34" y="875.60"/><use href="#c" x="49.56" y="875.60"/><use href="#c" x="50.77" y="875.60"/><use href="#c" x="51.98" y="875.60"/><use href="#c" x="53.20" y="875.60"/><use href="#c" x="54.41" y="875.60"/><use href="#c" x="55.62" y="875.60"/><use href="#c" x="56.84" y="875.60"/><use href="#c" x="58.05" y="875.60"/><use href="#c" x="59.26" y="875.60"/><use href="#c" x="60.48" y="875.60"/><use href="#c" x="61.69" y="875.60"/><use href="#c" x="62.90" y="875.60"/><use href="#c" x="64.12" y="875.60"/><use href="#c" x="65.33" y="875.60"/><use href="#c" x="66.54" y="875.60"/><use href="#c" x="67.76" y="875.60"/><use href="#c" x="68.97" y="875.60"/><use href="#c" x="70.18" y="875.60"/><use href="#c" x="71.39" y="875.60"/><use href="#c" x="72.61" y="875.60"/><use href="#c" x="73.82" y="875.60"/><use href="#c" x="75.03" y="875.60"/><use href="#c" x="76.25" y="875.60"/><use href="#c" x="77.46" y="875.60"/><use href="#c" x="78.67" y="875.60"/><use href="#c" x="79.89" y="875.60"/><use href="#c" x="81.10" y="875.60"/><use href="#c" x="82.31" y="875.60"/><use href="#c" x="83.53" y="875.60"/><use href="#c" x="84.74" y="875.60"/><use href="#c" x="85.95" y="875.60"/><use href="#c" x="87.17" y="875.60"/><use href="#c" x="88.38" y="875.60"/><use href="#c" x="89.59" y="875.60"/><use href="#c" x="90.81" y="875.60"/><use href="#c" x="92.02" y="875.60"/><use href="#c" x="93.23" y="875.60"/><use href="#c" x="94.44" y="875.60"/><use href="#c" x="95.66" y="875.58"/><use href="#c" x="96.87" y="875.55"/><use href="#c" x="98.08" y="875.50"/><use href="#c" x="99.30" y="875.44"/><use href="#c" x="100.51" y="875.38"/><use href="#c" x="101.72" y="875.31"/><use href="#c" x="102.94" y="875.24"/><use href="#c" x="104.15" y="875.17"/><use href="#c" x="105.36" y="875.09"/><use href="#c" x="106.58" y="875.00"/><use href="#c" x="107.79" y="874.90"/><use href="#c" x="109.00" y="874.80"/><use href="#c" x="110.22" y="874.69"/><use href="#c" x="111.43" y="874.57"/><use href="#c" x="112.64" y="874.46"/><use href="#c" x="113.86" y="874.34"/><use href="#c" x="115.07" y="874.21"/><use href="#c" x="116.28" y="874.08"/><use href="#c" x="117.49" y="873.94"/><use href="#c" x="118.71" y="873.79"/><use href="#c" x="119.92" y="873.64"/><use href="#c" x="121.13" y="873.48"/><use href="#c" x="122.35" y="873.32"/><use href="#c" x="123.56" y="873.16"/><use href="#c" x="124.77" y="872.99"/><use href="#c" x="125.99" y="872.83"/><use href="#c" x="127.20" y="872.67"/><use href="#c" x="128.41" y="872.50"/><use href="#c" x="129.63" y="872.34"/><use href="#c" x="130.84" y="872.18"/><use href="#c" x="132.05" y="872.03"/><use href="#c" x="133.27" y="871.88"/><use href="#c" x="134.48" y="871.73"/><use href="#c" x="135.69" y="871.56"/><use href="#c" x="136.91" y="871.38"/><use href="#c" x="138.12" y="871.20"/><use href="#c" x="139.33" y="871.01"/><use href="#c" x="140.54" y="870.83"/><use href="#c" x="141.76" y="870.64"/><use href="#c" x="142.97" y="870.46"/><use href="#c" x="144.18" y="870.29"/><use href="#c" x="145.40" y="870.14"/><use href="#c" x="146.61" y="869.99"/><use href="#c" x="147.82" y="869.87"/><use href="#c" x="149.04" y="869.76"/><use href="#c" x="150.25" y="869.68"/><use href="#c" x="151.46" y="869.63"/><use href="#c" x="152.68" y="869.61"/><use href="#c" x="153.89" y="869.60"/><use href="#c" x="155.10" y="869.60"/><use href="#c" x="156.32" y="869.60"/><use href="#c" x="157.53" y="869.61"/><use href="#c" x="158.74" y="869.64"/><use href="#c" x="159.96" y="869.70"/><use href="#c" x="161.17" y="869.78"/><use href="#c" x="162.38" y="869.88"/><use href="#c" x="163.59" y="870.00"/><use href="#c" x="164.81" y="870.14"/><use href="#c" x="166.02" y="870.29"/><use href="#c" x="167.23" y="870.46"/><use href="#c" x="168.45" y="870.63"/><use href="#c" x="169.66" y="870.81"/><use href="#c" x="170.87" y="870.99"/><use href="#c" x="172.09" y="871.18"/><use href="#c" x="173.30" y="871.38"/><use href="#c" x="174.51" y="871.61"/><use href="#c" x="175.73" y="871.89"/><use href="#c" x="176.94" y="872.19"/><use href="#c" x="178.15" y="872.52"/><use href="#c" x="179.37" y="872.87"/><use href="#c" x="180.58" y="873.21"/><use href="#c" x="181.79" y="873.56"/><use href="#c" x="183.01" y="873.90"/><use href="#c" x="184.22" y="874.23"/><use href="#c" x="185.43" y="874.58"/><use href="#c" x="186.64" y="874.95"/><use href="#c" x="187.86" y="875.36"/><use href="#c" x="189.07" y="875.37"/><use href="#c" x="190.28" y="874.78"/><use href="#c" x="191.50" y="874.13"/><use href="#c" x="192.71" y="873.51"/><use href="#c" x="193.92" y="872.90"/><use href="#c" x="195.14" y="872.29"/><use href="#c" x="196.35" y="871.68"/><use href="#c" x="197.56" y="871.08"/><use href="#c" x="198.78" y="870.47"/><use href="#c" x="199.99" y="869.86"/><use href="#c" x="201.20" y="869.25"/><use href="#c" x="202.42" y="868.64"/><use href="#c" x="203.63" y="868.02"/><use href="#c" x="204.84" y="867.39"/><use href="#c" x="206.06" y="866.76"/><use href="#c" x="207.27" y="866.13"/><use href="#c" x="208.48" y="865.48"/><use href="#c" x="209.69" y="864.83"/><use href="#c" x="210.91" y="864.16"/><use href="#c" x="212.12" y="863.49"/><use href="#c" x="213.33" y="862.81"/><use href="#c" x="214.55" y="862.14"/><use href="#c" x="215.76" y="861.46"/><use href="#c" x="216.97" y="860.78"/><use href="#c" x="218.19" y="860.09"/><use href="#c" x="219.40" y="859.39"/><use href="#c" x="220.61" y="858.69"/><use href="#c" x="221.83" y="857.98"/><use href="#c" x="223.04" y="857.25"/><use href="#c" x="224.25" y="856.51"/><use href="#c" x="225.47" y="855.75"/><use href="#c" x="226.68" y="854.97"/><use href="#c" x="227.89" y="854.17"/><use href="#c" x="229.11" y="853.35"/><use href="#c" x="230.32" y="852.51"/><use href="#c" x="231.53" y="851.64"/><use href="#c" x="232.74" y="850.74"/><use href="#c" x="233.96" y="849.82"/><use href="#c" x="235.17" y="848.86"/><use href="#c" x="236.38" y="847.88"/><use href="#c" x="237.60" y="846.87"/><use href="#c" x="238.81" y="845.83"/><use href="#c" x="240.02" y="844.77"/><use href="#c" x="241.24" y="843.68"/><use href="#c" x="242.45" y="842.57"/><use href="#c" x="243.66" y="841.43"/><use href="#c" x="244.88" y="840.27"/><use href="#c" x="246.09" y="839.09"/><use href="#c" x="247.30" y="837.88"/><use href="#c" x="248.52" y="836.65"/><use href="#c" x="249.73" y="835.40"/><use href="#c" x="250.94" y="834.13"/><use href="#c" x="252.16" y="832.83"/><use href="#c" x="253.37" y="831.51"/><use href="#c" x="254.58" y="830.16"/><use href="#c" x="255.79" y="828.77"/><use href="#c" x="257.01" y="827.35"/><use href="#c" x="258.22" y="825.91"/><use href="#c" x="259.43" y="824.42"/><use href="#c" x="260.65" y="822.91"/><use href="#c" x="261.86" y="821.35"/><use href="#c" x="263.07" y="819.76"/><use href="#c" x="264.29" y="818.14"/><use href="#c" x="265.50" y="816.47"/><use href="#c" x="266.71" y="814.77"/><use href="#c" x="267.93" y="813.02"/><use href="#c" x="269.14" y="811.24"/><use href="#c" x="270.35" y="809.41"/><use href="#c" x="271.57" y="807.53"/><use href="#c" x="272.78" y="805.51"/><use href="#c" x="273.99" y="803.38"/><use href="#c" x="275.21" y="801.16"/><use href="#c" x="276.42" y="798.87"/><use href="#c" x="277.63" y="796.54"/><use href="#c" x="278.84" y="794.20"/><use href="#c" x="280.06" y="791.86"/><use href="#c" x="281.27" y="789.55"/><use href="#c" x="282.48" y="787.27"/><use href="#c" x="283.70" y="784.99"/><use href="#c" x="284.91" y="782.69"/><use href="#c" x="286.12" y="780.35"/><use href="#c" x="287.34" y="777.95"/><use href="#c" x="288.55" y="775.47"/><use href="#c" x="289.76" y="772.89"/><use href="#c" x="290.98" y="770.18"/><use href="#c" x="292.19" y="767.28"/><use href="#c" x="293.40" y="764.21"/><use href="#c" x="294.62" y="761.03"/><use href="#c" x="295.83" y="757.76"/><use href="#c" x="297.04" y="754.45"/><use href="#c" x="298.26" y="751.15"/><use href="#c" x="299.47" y="747.88"/><use href="#c" x="300.68" y="744.70"/><use href="#c" x="301.90" y="741.59"/><use href="#c" x="303.11" y="738.50"/><use href="#c" x="304.32" y="735.42"/><use href="#c" x="305.53" y="732.36"/><use href="#c" x="306.75" y="729.31"/><use href="#c" x="307.96" y="726.25"/><use href="#c" x="309.17" y="723.20"/><use href="#c" x="310.39" y="720.14"/><use href="#c" x="311.60" y="717.10"/><use href="#c" x="312.81" y="714.07"/><use href="#c" x="314.03" y="711.06"/><use href="#c" x="315.24" y="708.08"/><use href="#c" x="316.45" y="705.13"/><use href="#c" x="317.67" y="702.22"/><use href="#c" x="318.88" y="699.33"/><use href="#c" x="320.09" y="696.43"/><use href="#c" x="321.31" y="693.56"/><use href="#c" x="322.52" y="690.76"/><use href="#c" x="323.73" y="688.09"/><use href="#c" x="324.95" y="685.59"/><use href="#c" x="326.16" y="683.19"/><use href="#c" x="327.37" y="680.90"/><use href="#c" x="328.58" y="678.74"/><use href="#c" x="329.80" y="676.75"/><use href="#c" x="331.01" y="674.93"/><use href="#c" x="332.22" y="673.17"/><use href="#c" x="333.44" y="671.59"/><use href="#c" x="334.65" y="670.33"/><use href="#c" x="335.86" y="669.40"/><use href="#c" x="337.08" y="668.53"/><use href="#c" x="338.29" y="667.80"/><use href="#c" x="339.50" y="667.32"/><use href="#c" x="340.72" y="667.20"/><use href="#c" x="341.93" y="667.36"/><use href="#c" x="343.14" y="667.75"/><use href="#c" x="344.36" y="668.39"/><use href="#c" x="345.57" y="753.82"/></g>
<rect x="446.00" y="627.50" width="314.45" height="248.10" fill="none" stroke="#262626" stroke-width="1.0"/>
<text x="446.00" y="886.20" text-anchor="middle" font-size="6.85">0</text>
<text x="485.31" y="886.20" text-anchor="middle" font-size="6.85">2</text>
<text x="524.61" y="886.20" text-anchor="middle" font-size="6.85">4</text>
<text x="563.92" y="886.20" text-anchor="middle" font-size="6.85">6</text>
<text x="603.23" y="886.20" text-anchor="middle" font-size="6.85">8</text>
<text x="642.53" y="886.20" text-anchor="middle" font-size="6.85">10</text>
<text x="681.84" y="886.20" text-anchor="middle" font-size="6.85">12</text>
<text x="721.14" y="886.20" text-anchor="middle" font-size="6.85">14</text>
<text x="760.45" y="886.20" text-anchor="middle" font-size="6.85">16</text>
<text x="442.00" y="878.50" text-anchor="end" font-size="6.85">0</text>
<text x="442.00" y="847.49" text-anchor="end" font-size="6.85">0.01</text>
<text x="442.00" y="816.48" text-anchor="end" font-size="6.85">0.02</text>
<text x="442.00" y="785.46" text-anchor="end" font-size="6.85">0.03</text>
<text x="442.00" y="754.45" text-anchor="end" font-size="6.85">0.04</text>
<text x="442.00" y="723.44" text-anchor="end" font-size="6.85">0.05</text>
<text x="442.00" y="692.42" text-anchor="end" font-size="6.85">0.06</text>
<text x="442.00" y="661.41" text-anchor="end" font-size="6.85">0.07</text>
<text x="442.00" y="630.40" text-anchor="end" font-size="6.85">0.08</text>
<path d="M485.31 875.60v-3.7M485.31 627.50v3.7M524.61 875.60v-3.7M524.61 627.50v3.7M563.92 875.60v-3.7M563.92 627.50v3.7M603.23 875.60v-3.7M603.23 627.50v3.7M642.53 875.60v-3.7M642.53 627.50v3.7M681.84 875.60v-3.7M681.84 627.50v3.7M721.14 875.60v-3.7M721.14 627.50v3.7M446.00 844.59h3.7M760.45 844.59h-3.7M446.00 813.58h3.7M760.45 813.58h-3.7M446.00 782.56h3.7M760.45 782.56h-3.7M446.00 751.55h3.7M760.45 751.55h-3.7M446.00 720.54h3.7M760.45 720.54h-3.7M446.00 689.52h3.7M760.45 689.52h-3.7M446.00 658.51h3.7M760.45 658.51h-3.7" stroke="#262626" stroke-width="1.0" fill="none"/>
<text x="603.23" y="896.40" text-anchor="middle" font-size="8.0">S</text>
<text transform="translate(424.20 751.55) rotate(-90)" text-anchor="middle" font-size="8.0">Numerical Error of Power Option</text>
<g><use href="#c" x="446.00" y="875.60"/><use href="#c" x="450.83" y="875.60"/><use href="#c" x="455.55" y="875.60"/><use href="#c" x="460.16" y="875.60"/><use href="#c" x="464.65" y="875.60"/><use href="#c" x="469.03" y="875.60"/><use href="#c" x="473.31" y="875.60"/><use href="#c" x="477.48" y="875.60"/><use href="#c" x="481.56" y="875.60"/><use href="#c" x="485.53" y="875.60"/><use href="#c" x="489.41" y="875.60"/><use href="#c" x="493.20" y="875.60"/><use href="#c" x="496.90" y="875.58"/><use href="#c" x="500.50" y="875.48"/><use href="#c" x="504.02" y="875.33"/><use href="#c" x="507.46" y="875.17"/><use href="#c" x="510.81" y="874.96"/><use href="#c" x="514.09" y="874.71"/><use href="#c" x="517.28" y="874.44"/><use href="#c" x="520.40" y="874.16"/><use href="#c" x="523.44" y="873.86"/><use href="#c" x="526.42" y="873.54"/><use href="#c" x="529.32" y="873.16"/><use href="#c" x="532.15" y="872.73"/><use href="#c" x="534.91" y="872.30"/><use href="#c" x="537.61" y="871.87"/><use href="#c" x="540.25" y="871.47"/><use href="#c" x="542.82" y="871.12"/><use href="#c" x="545.33" y="870.82"/><use href="#c" x="547.78" y="870.52"/><use href="#c" x="550.18" y="870.22"/><use href="#c" x="552.52" y="869.92"/><use href="#c" x="554.80" y="869.66"/><use href="#c" x="557.03" y="869.43"/><use href="#c" x="559.21" y="869.26"/><use href="#c" x="561.33" y="869.14"/><use href="#c" x="563.41" y="869.09"/><use href="#c" x="565.44" y="869.11"/><use href="#c" x="567.42" y="869.19"/><use href="#c" x="569.36" y="869.31"/><use href="#c" x="571.25" y="869.47"/><use href="#c" x="573.10" y="869.64"/><use href="#c" x="574.90" y="869.86"/><use href="#c" x="576.67" y="870.20"/><use href="#c" x="578.39" y="870.63"/><use href="#c" x="580.08" y="871.12"/><use href="#c" x="581.73" y="871.62"/><use href="#c" x="583.34" y="872.12"/><use href="#c" x="584.91" y="872.60"/><use href="#c" x="586.45" y="873.11"/><use href="#c" x="587.95" y="873.64"/><use href="#c" x="589.43" y="874.19"/><use href="#c" x="590.86" y="874.77"/><use href="#c" x="592.27" y="875.36"/><use href="#c" x="593.65" y="875.21"/><use href="#c" x="595.00" y="874.54"/><use href="#c" x="596.31" y="873.83"/><use href="#c" x="597.60" y="873.10"/><use href="#c" x="598.87" y="872.36"/><use href="#c" x="600.10" y="871.61"/><use href="#c" x="601.31" y="870.87"/><use href="#c" x="602.50" y="870.15"/><use href="#c" x="603.66" y="869.44"/><use href="#c" x="604.80" y="868.75"/><use href="#c" x="605.91" y="868.06"/><use href="#c" x="607.00" y="867.37"/><use href="#c" x="608.07" y="866.69"/><use href="#c" x="609.12" y="866.02"/><use href="#c" x="610.15" y="865.36"/><use href="#c" x="611.16" y="864.70"/><use href="#c" x="612.15" y="864.04"/><use href="#c" x="613.12" y="863.40"/><use href="#c" x="614.07" y="862.76"/><use href="#c" x="615.01" y="862.13"/><use href="#c" x="615.93" y="861.51"/><use href="#c" x="616.83" y="860.89"/><use href="#c" x="617.72" y="860.28"/><use href="#c" x="618.59" y="859.68"/><use href="#c" x="619.45" y="859.09"/><use href="#c" x="620.29" y="858.50"/><use href="#c" x="621.12" y="857.92"/><use href="#c" x="621.94" y="857.35"/><use href="#c" x="622.74" y="856.78"/><use href="#c" x="623.53" y="856.22"/><use href="#c" x="624.31" y="855.67"/><use href="#c" x="625.08" y="855.13"/><use href="#c" x="625.84" y="854.60"/><use href="#c" x="626.59" y="854.08"/><use href="#c" x="627.33" y="853.56"/><use href="#c" x="628.06" y="853.04"/><use href="#c" x="628.78" y="852.53"/><use href="#c" x="629.49" y="852.03"/><use href="#c" x="630.19" y="851.53"/><use href="#c" x="630.89" y="851.03"/><use href="#c" x="631.58" y="850.53"/><use href="#c" x="632.26" y="850.03"/><use href="#c" x="632.94" y="849.54"/><use href="#c" x="633.61" y="849.04"/><use href="#c" x="634.28" y="848.54"/><use href="#c" x="634.94" y="848.04"/><use href="#c" x="635.59" y="847.54"/><use href="#c" x="636.25" y="847.04"/><use href="#c" x="636.89" y="846.53"/><use href="#c" x="637.54" y="846.02"/><use href="#c" x="638.18" y="845.50"/><use href="#c" x="638.82" y="844.98"/><use href="#c" x="639.45" y="844.46"/><use href="#c" x="640.09" y="843.92"/><use href="#c" x="640.72" y="843.39"/><use href="#c" x="641.35" y="842.84"/><use href="#c" x="641.99" y="842.28"/><use href="#c" x="642.62" y="841.72"/><use href="#c" x="643.25" y="841.15"/><use href="#c" x="643.88" y="840.57"/><use href="#c" x="644.51" y="839.98"/><use href="#c" x="645.14" y="839.38"/><use href="#c" x="645.78" y="838.78"/><use href="#c" x="646.42" y="838.16"/><use href="#c" x="647.06" y="837.53"/><use href="#c" x="647.70" y="836.89"/><use href="#c" x="648.34" y="836.24"/><use href="#c" x="648.99" y="835.58"/><use href="#c" x="649.64" y="834.91"/><use href="#c" x="650.30" y="834.22"/><use href="#c" x="650.96" y="833.51"/><use href="#c" x="651.63" y="832.80"/><use href="#c" x="652.30" y="832.06"/><use href="#c" x="652.98" y="831.31"/><use href="#c" x="653.67" y="830.55"/><use href="#c" x="654.36" y="829.76"/><use href="#c" x="655.06" y="828.95"/><use href="#c" x="655.76" y="828.13"/><use href="#c" x="656.48" y="827.28"/><use href="#c" x="657.20" y="826.41"/><use href="#c" x="657.93" y="825.52"/><use href="#c" x="658.67" y="824.61"/><use href="#c" x="659.43" y="823.66"/><use href="#c" x="660.19" y="822.70"/><use href="#c" x="660.96" y="821.70"/><use href="#c" x="661.74" y="820.67"/><use href="#c" x="662.54" y="819.61"/><use href="#c" x="663.35" y="818.52"/><use href="#c" x="664.17" y="817.38"/><use href="#c" x="665.00" y="816.21"/><use href="#c" x="665.85" y="814.99"/><use href="#c" x="666.71" y="813.72"/><use href="#c" x="667.58" y="812.40"/><use href="#c" x="668.48" y="811.04"/><use href="#c" x="669.38" y="809.62"/><use href="#c" x="670.31" y="808.15"/><use href="#c" x="671.25" y="806.62"/><use href="#c" x="672.20" y="805.03"/><use href="#c" x="673.18" y="803.37"/><use href="#c" x="674.17" y="801.65"/><use href="#c" x="675.19" y="799.86"/><use href="#c" x="676.22" y="798.00"/><use href="#c" x="677.28" y="796.06"/><use href="#c" x="678.35" y="794.04"/><use href="#c" x="679.45" y="791.94"/><use href="#c" x="680.57" y="789.75"/><use href="#c" x="681.71" y="787.46"/><use href="#c" x="682.88" y="785.05"/><use href="#c" x="684.07" y="782.47"/><use href="#c" x="685.29" y="779.70"/><use href="#c" x="686.53" y="776.77"/><use href="#c" x="687.80" y="773.66"/><use href="#c" x="689.10" y="770.39"/><use href="#c" x="690.43" y="766.97"/><use href="#c" x="691.78" y="763.39"/><use href="#c" x="693.17" y="759.67"/><use href="#c" x="694.58" y="755.83"/><use href="#c" x="696.03" y="751.86"/><use href="#c" x="697.51" y="747.80"/><use href="#c" x="699.02" y="743.65"/><use href="#c" x="700.57" y="739.44"/><use href="#c" x="702.16" y="735.18"/><use href="#c" x="703.78" y="730.69"/><use href="#c" x="705.43" y="725.97"/><use href="#c" x="707.13" y="721.03"/><use href="#c" x="708.86" y="715.92"/><use href="#c" x="710.64" y="710.67"/><use href="#c" x="712.46" y="705.32"/><use href="#c" x="714.32" y="699.94"/><use href="#c" x="716.22" y="694.57"/><use href="#c" x="718.17" y="689.28"/><use href="#c" x="720.16" y="684.16"/><use href="#c" x="722.21" y="679.24"/><use href="#c" x="724.30" y="674.36"/><use href="#c" x="726.44" y="669.57"/><use href="#c" x="728.63" y="665.00"/><use href="#c" x="730.87" y="660.77"/><use href="#c" x="733.17" y="656.90"/><use href="#c" x="735.52" y="653.35"/><use href="#c" x="737.93" y="650.59"/><use href="#c" x="740.40" y="648.13"/><use href="#c" x="742.93" y="646.16"/><use href="#c" x="745.52" y="645.51"/><use href="#c" x="748.17" y="646.42"/><use href="#c" x="750.89" y="649.74"/><use href="#c" x="753.67" y="655.41"/><use href="#c" x="756.52" y="789.39"/></g>
</svg>
</body></html>
